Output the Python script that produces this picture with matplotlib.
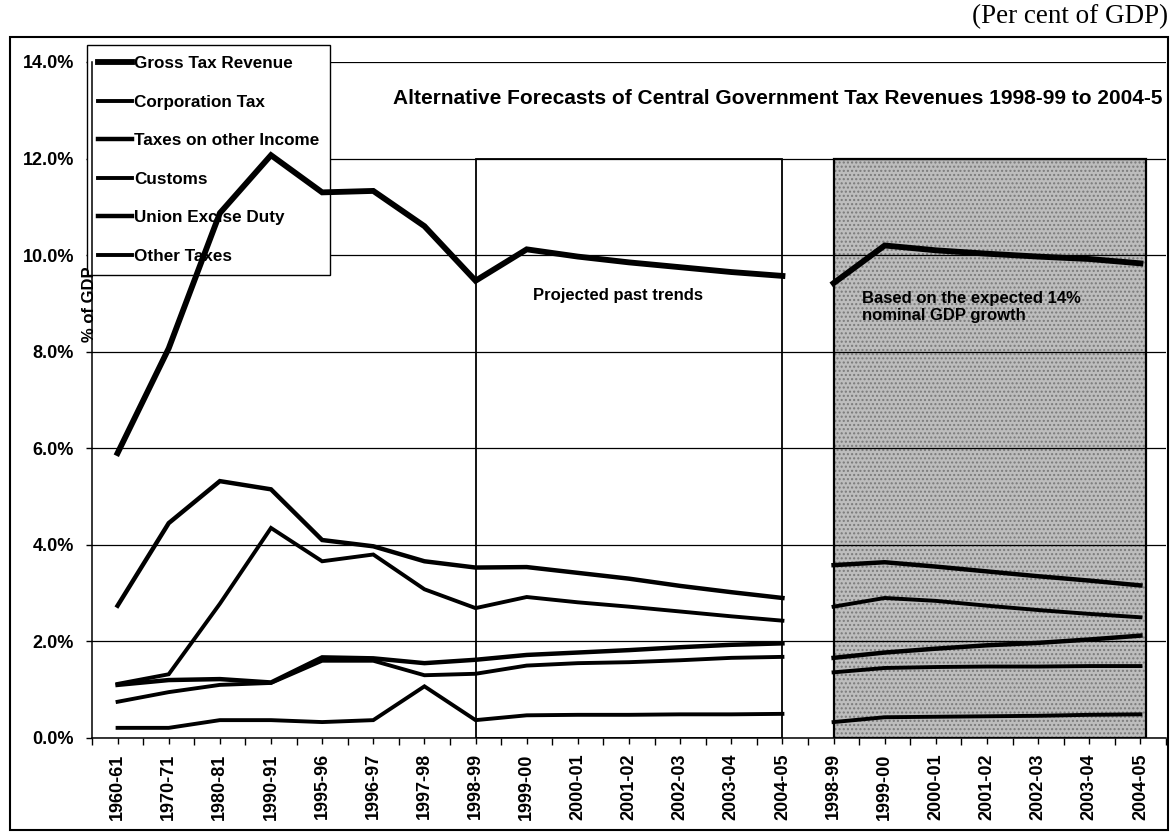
import numpy as np
import matplotlib
matplotlib.use('agg')
import matplotlib.pyplot as plt
import matplotlib.patches as patches
from matplotlib.ticker import FuncFormatter, FixedLocator

plt.rcParams['font.family'] = ['Liberation Sans', 'DejaVu Sans']
plt.rcParams['font.weight'] = 'bold'

# category labels: past years, projected past trends, 14% nominal GDP growth case
hist_years = ['1960-61', '1970-71', '1980-81', '1990-91', '1995-96', '1996-97', '1997-98', '1998-99']
trend_years = ['1999-00', '2000-01', '2001-02', '2002-03', '2003-04', '2004-05']
gdp_years = ['1998-99', '1999-00', '2000-01', '2001-02', '2002-03', '2003-04', '2004-05']

# per cent of GDP
gross_hist = [5.9, 8.07, 10.87, 12.07, 11.3, 11.33, 10.6, 9.47]
gross_trend = [10.12, 9.97, 9.85, 9.75, 9.65, 9.57]
gross_gdp = [9.42, 10.2, 10.1, 10.03, 9.97, 9.92, 9.83]

corp_hist = [0.75, 0.95, 1.1, 1.14, 1.6, 1.6, 1.3, 1.33]
corp_trend = [1.5, 1.55, 1.57, 1.61, 1.66, 1.68]
corp_gdp = [1.36, 1.45, 1.47, 1.48, 1.48, 1.49, 1.49]

income_hist = [1.1, 1.2, 1.22, 1.15, 1.67, 1.65, 1.55, 1.62]
income_trend = [1.72, 1.77, 1.82, 1.88, 1.93, 1.96]
income_gdp = [1.66, 1.77, 1.85, 1.92, 1.97, 2.04, 2.12]

customs_hist = [1.12, 1.32, 2.78, 4.35, 3.66, 3.8, 3.08, 2.69]
customs_trend = [2.92, 2.81, 2.72, 2.62, 2.52, 2.43]
customs_gdp = [2.72, 2.9, 2.84, 2.74, 2.65, 2.57, 2.5]

excise_hist = [2.74, 4.45, 5.32, 5.15, 4.1, 3.97, 3.66, 3.53]
excise_trend = [3.54, 3.42, 3.3, 3.15, 3.02, 2.9]
excise_gdp = [3.58, 3.64, 3.55, 3.45, 3.35, 3.26, 3.16]

other_hist = [0.21, 0.21, 0.37, 0.37, 0.33, 0.37, 1.07, 0.37]
other_trend = [0.47, 0.48, 0.48, 0.49, 0.49, 0.5]
other_gdp = [0.33, 0.43, 0.44, 0.45, 0.46, 0.48, 0.49]

labels = hist_years + trend_years + gdp_years
n1 = len(hist_years) + len(trend_years)
x1 = np.arange(n1)
x2 = np.arange(n1, len(labels))

series = [
    ('Gross Tax Revenue', gross_hist + gross_trend, gross_gdp, 4.2),
    ('Corporation Tax', corp_hist + corp_trend, corp_gdp, 2.8),
    ('Taxes on other Income', income_hist + income_trend, income_gdp, 3.2),
    ('Customs', customs_hist + customs_trend, customs_gdp, 2.8),
    ('Union Excise Duty', excise_hist + excise_trend, excise_gdp, 3.2),
    ('Other Taxes', other_hist + other_trend, other_gdp, 2.8),
]

W, H = 1170, 833
fig = plt.figure(figsize=(W / 100, H / 100), dpi=100)
ax = fig.add_axes([92 / W, 1 - 738 / H, (1166 - 92) / W, (738 - 62) / H])

for name, past, gdp, lw in series:
    ax.plot(x1, past, color='black', lw=lw, label=name, zorder=3, solid_joinstyle='miter')
    ax.plot(x2, gdp, color='black', lw=lw, zorder=3, solid_joinstyle='miter')

ax.set_xlim(-0.5, len(labels) - 0.5)
ax.set_ylim(0, 14)

# shaded block (14% nominal GDP growth) and box for projected past trends
ax.add_patch(patches.Rectangle((n1, 0), len(gdp_years) - 0.9, 12, facecolor='#bdbdbd',
                               edgecolor='#7a7a7a', hatch='....', lw=0, zorder=1))
ax.add_patch(patches.Rectangle((n1, 0), len(gdp_years) - 0.9, 12, fill=False,
                               edgecolor='black', lw=1.6, zorder=2.5))
ax.add_patch(patches.Rectangle((len(hist_years) - 1, 0), len(trend_years), 12, fill=False,
                               edgecolor='black', lw=1.3, zorder=2.5))

ax.set_axisbelow('line')
ax.yaxis.grid(True, color='black', lw=0.9)
ax.set_yticks(np.arange(0, 15, 2))
ax.yaxis.set_major_formatter(FuncFormatter(lambda v, p: f'{v:.1f}%'))
ax.tick_params(axis='y', direction='out', length=4, width=1, pad=9, labelsize=13)

ax.set_xticks(np.arange(len(labels)))
ax.set_xticklabels(labels, rotation=90, fontsize=13)
ax.xaxis.set_minor_locator(FixedLocator(np.arange(-0.5, len(labels), 1)))
ax.tick_params(axis='x', which='major', direction='out', length=4, width=1, pad=7)
ax.tick_params(axis='x', which='minor', direction='out', length=5, width=1)

for s in ['top', 'right']:
    ax.spines[s].set_visible(False)
for s in ['left', 'bottom']:
    ax.spines[s].set_linewidth(1.1)

leg = ax.legend(loc='upper left', bbox_to_anchor=(87 / W, 1 - 45 / H), bbox_transform=fig.transFigure,
                fontsize=12.3, frameon=True, fancybox=False, edgecolor='black', framealpha=1,
                borderaxespad=0, borderpad=0.65, handlelength=2.0, handletextpad=0.1,
                labelspacing=1.38)
leg.get_frame().set_linewidth(1)
leg.set_zorder(2)

ax.text(9.78, 9.17, 'Projected past trends', ha='center', va='center', fontsize=12, zorder=4)
ax.text(14.55, 8.93, 'Based on the expected 14%\nnominal GDP growth', ha='left', va='center',
        fontsize=12, linespacing=1.2, zorder=4)

fig.text(778 / W, 1 - 98 / H,
         'Alternative Forecasts of Central Government Tax Revenues 1998-99 to 2004-5',
         ha='center', va='center', fontsize=15)
fig.text(90 / W, 1 - 304 / H, '% of GDP', rotation=90, ha='center', va='center', fontsize=12, zorder=5)
fig.text(1168 / W, 1 - 17 / H, '(Per cent of GDP)', ha='right', va='center',
         family='Liberation Serif', fontweight='normal', fontsize=19.5)

fig.add_artist(patches.Rectangle((10 / W, 3 / H), 1158 / W, (830 - 37) / H, transform=fig.transFigure,
                                 fill=False, edgecolor='black', lw=1.5))

plt.savefig('out.png', dpi=100)
